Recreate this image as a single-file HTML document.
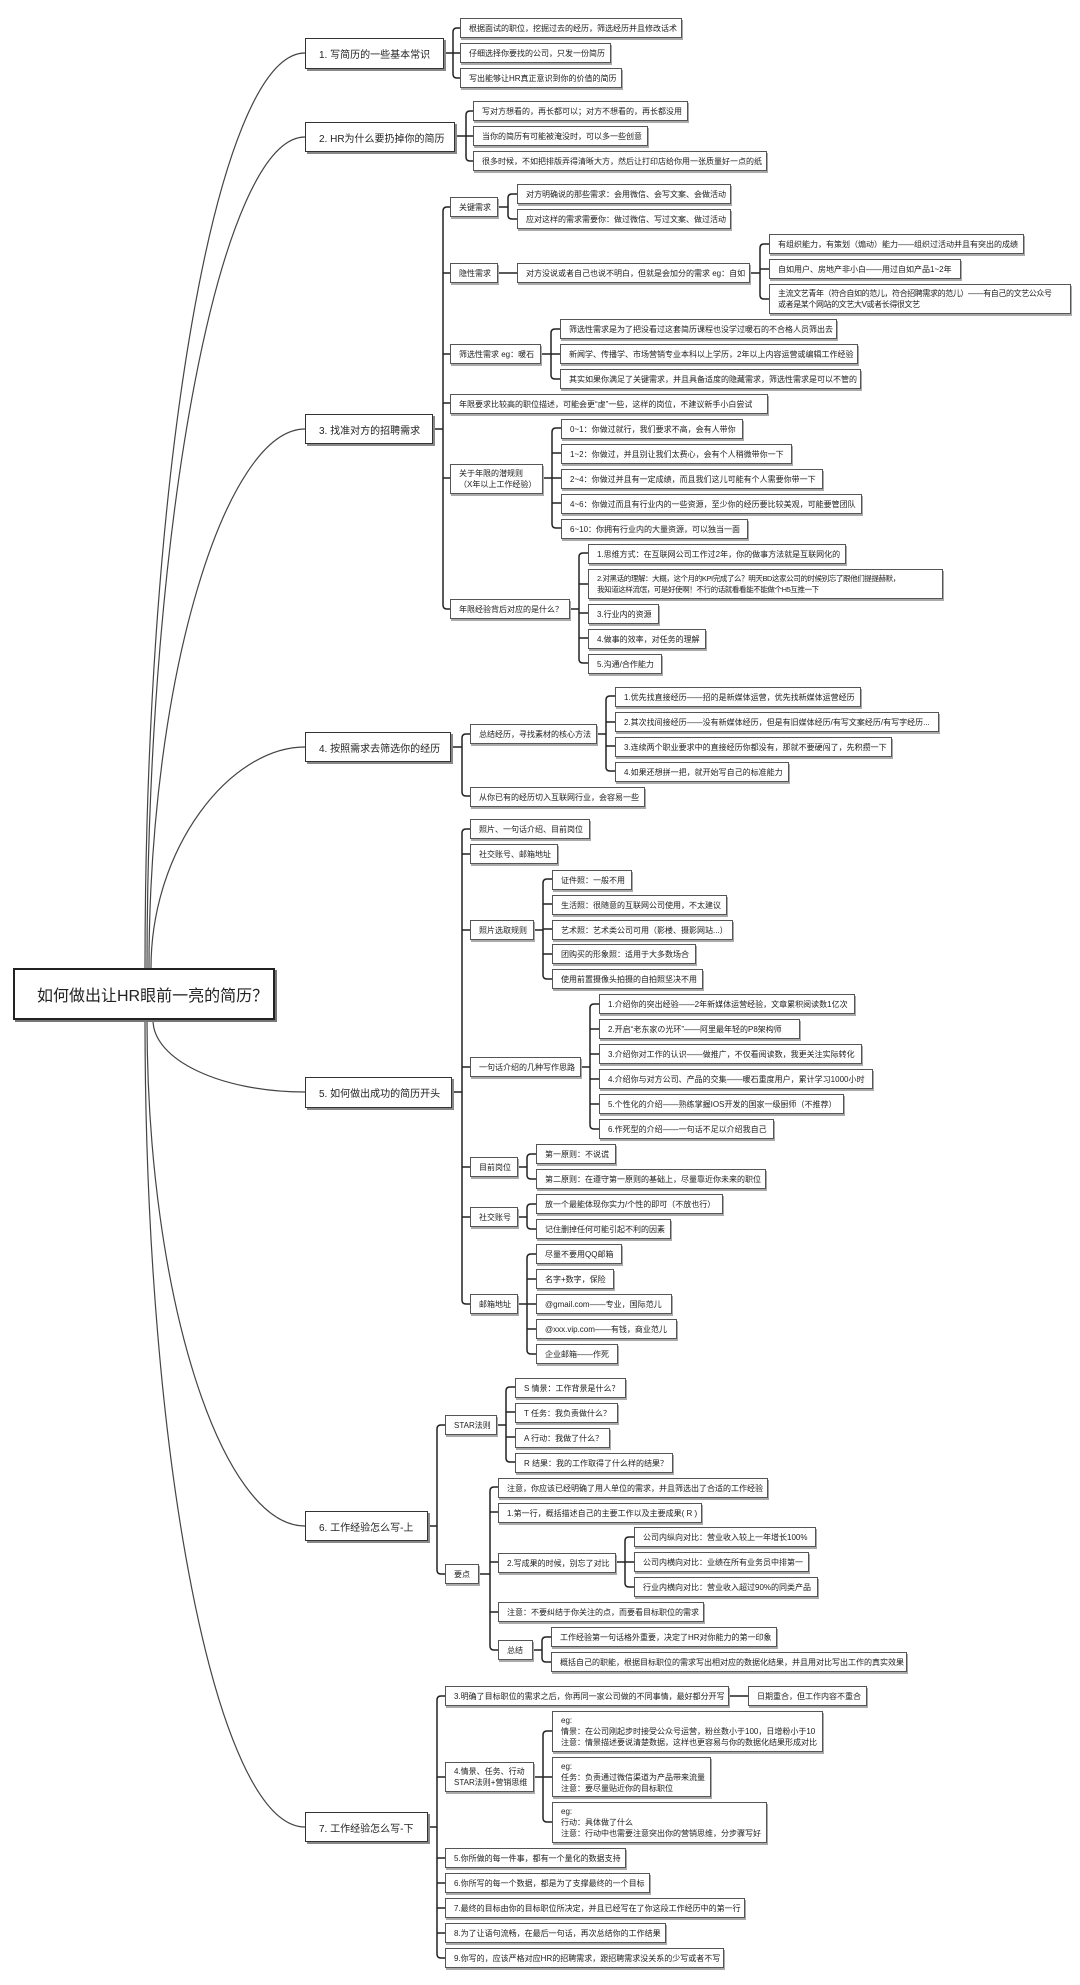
<!DOCTYPE html>
<html><head><meta charset="utf-8">
<style>
html,body{margin:0;padding:0;background:#fff;}
body{width:1080px;height:1985px;position:relative;overflow:hidden;font-family:"Liberation Sans","Noto Sans CJK SC",sans-serif;color:#222;}
.b{position:absolute;border:1px solid #555;background:#fff;box-shadow:1px 2px 0 #aaa;font-size:8px;line-height:11px;padding:0 4px 0 8px;display:flex;align-items:center;white-space:nowrap;box-sizing:border-box;height:20px;overflow:hidden;}
.m{position:absolute;border:1.5px solid #333;background:#fff;box-shadow:2px 2px 0 #888;font-size:10px;padding-left:13px;display:flex;align-items:center;white-space:nowrap;box-sizing:border-box;}
.r{position:absolute;left:13px;top:968px;width:262px;height:52px;border:2px solid #222;background:#fff;box-shadow:2px 2px 0 #777;font-size:16px;display:flex;align-items:center;padding-left:22px;box-sizing:border-box;white-space:nowrap;}
.t{letter-spacing:-0.4px;}
svg{position:absolute;left:0;top:0;}
</style></head><body>
<svg width="1080" height="1985" fill="none" stroke="#222" stroke-width="1.3">
<g stroke="#444" stroke-width="1.2">
<path d="M145 968 C145 467,217 53,305 53"/>
<path d="M147 968 C147 514,222 137,305 137"/>
<path d="M149 968 C149 676,226 429,305 429"/>
<path d="M151 968 C151 848,230 747,305 747"/>
<path d="M153 1020 C153 1060,221 1092,305 1092"/>
<path d="M147 1020 C147 1298,222 1526,305 1526"/>
<path d="M145 1020 C145 1463,217 1827,305 1827"/>
</g>
<g stroke-width="1.5">
<path d="M444 53H453M460 28H457Q453 28 453 32V74Q453 78 457 78H460M453 53H460"/>
<path d="M455 136H466M473 111H470Q466 111 466 115V157Q466 161 470 161H473M466 136H473"/>
<path d="M433 429H443M450 207H447Q443 207 443 211V605Q443 609 447 609H450M443 273H450M443 354H450M443 403H450M443 478H450"/>
<path d="M498 207H508M517 194H512Q508 194 508 198V215Q508 219 512 219H517"/>
<path d="M498 273H517"/>
<path d="M750 273H760M769 244H764Q760 244 760 248V295Q760 299 764 299H769M760 269H769"/>
<path d="M541 354H551M560 329H555Q551 329 551 333V375Q551 379 555 379H560M551 354H560"/>
<path d="M543 478H552M561 428H556Q552 428 552 432V524Q552 528 556 528H561M552 453H561M552 478H561M552 503H561"/>
<path d="M570 609H579M588 553H583Q579 553 579 557V659Q579 663 583 663H588M579 584H588M579 613H588M579 638H588"/>
<path d="M451 747H462M470 734H466Q462 734 462 738V792Q462 796 466 796H470"/>
<path d="M597 734H606M615 696H610Q606 696 606 700V767Q606 771 610 771H615M606 722H615M606 746H615"/>
<path d="M452 1092H462M470 829H466Q462 829 462 833V1300Q462 1304 466 1304H470M462 854H470M462 930H470M462 1067H470M462 1167H470M462 1217H470"/>
<path d="M534 930H543M552 879H547Q543 879 543 883V975Q543 979 547 979H552M543 904H552M543 929H552M543 954H552"/>
<path d="M581 1067H590M599 1004H594Q590 1004 590 1008V1125Q590 1129 594 1129H599M590 1029H599M590 1054H599M590 1079H599M590 1104H599"/>
<path d="M518 1167H527M536 1154H531Q527 1154 527 1158V1175Q527 1179 531 1179H536"/>
<path d="M518 1217H527M536 1204H531Q527 1204 527 1208V1225Q527 1229 531 1229H536"/>
<path d="M518 1304H527M536 1254H531Q527 1254 527 1258V1350Q527 1354 531 1354H536M527 1279H536M527 1304H536M527 1329H536"/>
<path d="M428 1526H437M445 1425H441Q437 1425 437 1429V1570Q437 1574 441 1574H445"/>
<path d="M497 1425H506M515 1387H510Q506 1387 506 1391V1458Q506 1462 510 1462H515M506 1412H515M506 1437H515"/>
<path d="M479 1574H490M498 1487H494Q490 1487 490 1491V1646Q490 1650 494 1650H498M490 1512H498M490 1562H498M490 1612H498"/>
<path d="M616 1562H625M634 1537H629Q625 1537 625 1541V1583Q625 1587 629 1587H634M625 1562H634"/>
<path d="M533 1650H542M551 1637H546Q542 1637 542 1641V1658Q542 1662 546 1662H551"/>
<path d="M428 1827H437M445 1696H441Q437 1696 437 1700V1954Q437 1958 441 1958H445M437 1777H445M437 1858H445M437 1883H445M437 1908H445M437 1933H445"/>
<path d="M729 1696H748"/>
<path d="M534 1777H543M552 1731H547Q543 1731 543 1735V1818Q543 1822 547 1822H552M543 1777H552"/>
</g>
</svg>

<div class="r">如何做出让HR眼前一亮的简历？</div>

<div class="m" style="left:305px;top:38px;width:139px;height:31px">1. 写简历的一些基本常识</div>
<div class="b" style="left:460px;top:18px;width:222px">根据面试的职位，挖掘过去的经历，筛选经历并且修改话术</div>
<div class="b" style="left:460px;top:43px;width:151px">仔细选择你要找的公司，只发一份简历</div>
<div class="b" style="left:460px;top:68px;width:162px">写出能够让HR真正意识到你的价值的简历</div>

<div class="m" style="left:305px;top:122px;width:150px;height:30px">2. HR为什么要扔掉你的简历</div>
<div class="b" style="left:473px;top:101px;width:215px">写对方想看的，再长都可以；对方不想看的，再长都没用</div>
<div class="b" style="left:473px;top:126px;width:175px">当你的简历有可能被淹没时，可以多一些创意</div>
<div class="b" style="left:473px;top:151px;width:294px">很多时候，不如把排版弄得清晰大方，然后让打印店给你用一张质量好一点的纸</div>

<div class="m" style="left:305px;top:414px;width:128px;height:30px">3. 找准对方的招聘需求</div>
<div class="b" style="left:450px;top:197px;width:48px">关键需求</div>
<div class="b" style="left:517px;top:184px;width:214px">对方明确说的那些需求：会用微信、会写文案、会做活动</div>
<div class="b" style="left:517px;top:209px;width:214px">应对这样的需求需要你：做过微信、写过文案、做过活动</div>
<div class="b" style="left:450px;top:263px;width:48px">隐性需求</div>
<div class="b" style="left:517px;top:263px;width:233px">对方没说或者自己也说不明白，但就是会加分的需求 eg：自如</div>
<div class="b" style="left:769px;top:234px;width:255px">有组织能力，有策划（煽动）能力——组织过活动并且有突出的成绩</div>
<div class="b" style="left:769px;top:259px;width:192px">自如用户、房地产非小白——用过自如产品1~2年</div>
<div class="b t" style="left:769px;top:284px;width:302px;height:30px">主流文艺青年（符合自如的范儿，符合招聘需求的范儿）——有自己的文艺公众号<br>或者是某个网站的文艺大V或者长得很文艺</div>
<div class="b" style="left:450px;top:344px;width:91px">筛选性需求 eg：暖石</div>
<div class="b" style="left:560px;top:319px;width:277px">筛选性需求是为了把没看过这套简历课程也没学过暖石的不合格人员筛出去</div>
<div class="b" style="left:560px;top:344px;width:298px">新闻学、传播学、市场营销专业本科以上学历，2年以上内容运营或编辑工作经验</div>
<div class="b" style="left:560px;top:369px;width:301px">其实如果你满足了关键需求，并且具备适度的隐藏需求，筛选性需求是可以不管的</div>
<div class="b" style="left:450px;top:394px;width:318px">年限要求比较高的职位描述，可能会更“虚”一些，这样的岗位，不建议新手小白尝试</div>
<div class="b" style="left:450px;top:464px;width:93px;height:30px">关于年限的潜规则<br>（X年以上工作经验）</div>
<div class="b" style="left:561px;top:419px;width:182px">0~1：你做过就行，我们要求不高，会有人带你</div>
<div class="b" style="left:561px;top:444px;width:231px">1~2：你做过，并且别让我们太费心，会有个人稍微带你一下</div>
<div class="b" style="left:561px;top:469px;width:262px">2~4：你做过并且有一定成绩，而且我们这儿可能有个人需要你带一下</div>
<div class="b" style="left:561px;top:494px;width:301px">4~6：你做过而且有行业内的一些资源，至少你的经历要比较美观，可能要管团队</div>
<div class="b" style="left:561px;top:519px;width:187px">6~10：你拥有行业内的大量资源，可以独当一面</div>
<div class="b" style="left:450px;top:599px;width:120px">年限经验背后对应的是什么？</div>
<div class="b" style="left:588px;top:544px;width:258px">1.思维方式：在互联网公司工作过2年，你的做事方法就是互联网化的</div>
<div class="b t" style="left:588px;top:569px;width:355px;height:30px;font-size:7.5px">2.对黑话的理解：大概，这个月的KPI完成了么？明天BD这家公司的时候别忘了跟他们提提赫默，<br>我知道这样流氓，可是好使啊！不行的话就看看能不能做个H5互推一下</div>
<div class="b" style="left:588px;top:604px;width:71px">3.行业内的资源</div>
<div class="b" style="left:588px;top:629px;width:118px">4.做事的效率，对任务的理解</div>
<div class="b" style="left:588px;top:654px;width:74px">5.沟通/合作能力</div>

<div class="m" style="left:305px;top:732px;width:146px;height:30px">4. 按照需求去筛选你的经历</div>
<div class="b" style="left:470px;top:724px;width:127px">总结经历，寻找素材的核心方法</div>
<div class="b" style="left:615px;top:687px;width:246px">1.优先找直接经历——招的是新媒体运营，优先找新媒体运营经历</div>
<div class="b" style="left:615px;top:712px;width:324px">2.其次找间接经历——没有新媒体经历，但是有旧媒体经历/有写文案经历/有写字经历...</div>
<div class="b" style="left:615px;top:737px;width:277px">3.连续两个职业要求中的直接经历你都没有，那就不要硬闯了，先积攒一下</div>
<div class="b" style="left:615px;top:762px;width:174px">4.如果还想拼一把，就开始写自己的标准能力</div>
<div class="b" style="left:470px;top:787px;width:175px">从你已有的经历切入互联网行业，会容易一些</div>

<div class="m" style="left:305px;top:1077px;width:147px;height:31px">5. 如何做出成功的简历开头</div>
<div class="b" style="left:470px;top:819px;width:120px">照片、一句话介绍、目前岗位</div>
<div class="b" style="left:470px;top:844px;width:88px">社交账号、邮箱地址</div>
<div class="b" style="left:470px;top:920px;width:64px">照片选取规则</div>
<div class="b" style="left:552px;top:870px;width:80px">证件照：一般不用</div>
<div class="b" style="left:552px;top:895px;width:175px">生活照：很随意的互联网公司使用，不太建议</div>
<div class="b" style="left:552px;top:920px;width:181px">艺术照：艺术类公司可用（影楼、摄影网站...）</div>
<div class="b" style="left:552px;top:944px;width:144px">团购买的形象照：适用于大多数场合</div>
<div class="b" style="left:552px;top:969px;width:151px">使用前置摄像头拍摄的自拍照坚决不用</div>
<div class="b" style="left:470px;top:1057px;width:111px">一句话介绍的几种写作思路</div>
<div class="b" style="left:599px;top:994px;width:256px">1.介绍你的突出经验——2年新媒体运营经验，文章累积阅读数1亿次</div>
<div class="b" style="left:599px;top:1019px;width:201px">2.开启“老东家の光环”——阿里最年轻的P8架构师</div>
<div class="b" style="left:599px;top:1044px;width:263px">3.介绍你对工作的认识——做推广，不仅看阅读数，我更关注实际转化</div>
<div class="b" style="left:599px;top:1069px;width:274px">4.介绍你与对方公司、产品的交集——暖石重度用户，累计学习1000小时</div>
<div class="b" style="left:599px;top:1094px;width:245px">5.个性化的介绍——熟练掌握IOS开发的国家一级厨师（不推荐）</div>
<div class="b" style="left:599px;top:1119px;width:175px">6.作死型的介绍——一句话不足以介绍我自己</div>
<div class="b" style="left:470px;top:1157px;width:48px">目前岗位</div>
<div class="b" style="left:536px;top:1144px;width:80px">第一原则：不说谎</div>
<div class="b" style="left:536px;top:1169px;width:230px">第二原则：在遵守第一原则的基础上，尽量靠近你未来的职位</div>
<div class="b" style="left:470px;top:1207px;width:48px">社交账号</div>
<div class="b" style="left:536px;top:1194px;width:187px">放一个最能体现你实力/个性的即可（不放也行）</div>
<div class="b" style="left:536px;top:1219px;width:135px">记住删掉任何可能引起不利的因素</div>
<div class="b" style="left:470px;top:1294px;width:48px">邮箱地址</div>
<div class="b" style="left:536px;top:1244px;width:86px">尽量不要用QQ邮箱</div>
<div class="b" style="left:536px;top:1269px;width:78px">名字+数字，保险</div>
<div class="b" style="left:536px;top:1294px;width:136px">@gmail.com——专业，国际范儿</div>
<div class="b" style="left:536px;top:1319px;width:141px">@xxx.vip.com——有钱，商业范儿</div>
<div class="b" style="left:536px;top:1344px;width:82px">企业邮箱——作死</div>

<div class="m" style="left:305px;top:1511px;width:123px;height:30px">6. 工作经验怎么写-上</div>
<div class="b" style="left:445px;top:1415px;width:52px">STAR法则</div>
<div class="b" style="left:515px;top:1378px;width:111px">S 情景：工作背景是什么？</div>
<div class="b" style="left:515px;top:1403px;width:103px">T 任务：我负责做什么？</div>
<div class="b" style="left:515px;top:1428px;width:95px">A 行动：我做了什么？</div>
<div class="b" style="left:515px;top:1453px;width:158px">R 结果：我的工作取得了什么样的结果？</div>
<div class="b" style="left:445px;top:1564px;width:34px">要点</div>
<div class="b" style="left:498px;top:1478px;width:270px">注意，你应该已经明确了用人单位的需求，并且筛选出了合适的工作经验</div>
<div class="b" style="left:498px;top:1503px;width:204px">1.第一行，概括描述自己的主要工作以及主要成果( R )</div>
<div class="b" style="left:498px;top:1553px;width:118px">2.写成果的时候，别忘了对比</div>
<div class="b" style="left:634px;top:1527px;width:182px">公司内纵向对比：营业收入较上一年增长100%</div>
<div class="b" style="left:634px;top:1552px;width:175px">公司内横向对比：业绩在所有业务员中排第一</div>
<div class="b" style="left:634px;top:1577px;width:184px">行业内横向对比：营业收入超过90%的同类产品</div>
<div class="b" style="left:498px;top:1602px;width:206px">注意：不要纠结于你关注的点，而要看目标职位的需求</div>
<div class="b" style="left:498px;top:1640px;width:35px">总结</div>
<div class="b" style="left:551px;top:1627px;width:226px">工作经验第一句话格外重要，决定了HR对你能力的第一印象</div>
<div class="b" style="left:551px;top:1652px;width:356px">概括自己的职能，根据目标职位的需求写出相对应的数据化结果，并且用对比写出工作的真实效果</div>

<div class="m" style="left:305px;top:1812px;width:123px;height:30px">7. 工作经验怎么写-下</div>
<div class="b" style="left:445px;top:1686px;width:284px">3.明确了目标职位的需求之后，你再同一家公司做的不同事情，最好都分开写</div>
<div class="b" style="left:748px;top:1686px;width:119px">日期重合，但工作内容不重合</div>
<div class="b" style="left:445px;top:1762px;width:89px;height:30px">4.情景、任务、行动<br>STAR法则+营销思维</div>
<div class="b" style="left:552px;top:1711px;width:271px;height:41px">eg:<br>情景：在公司刚起步时接受公众号运营，粉丝数小于100，日增粉小于10<br>注意：情景描述要说清楚数据，这样也更容易与你的数据化结果形成对比</div>
<div class="b" style="left:552px;top:1757px;width:159px;height:40px">eg:<br>任务：负责通过微信渠道为产品带来流量<br>注意：要尽量贴近你的目标职位</div>
<div class="b" style="left:552px;top:1802px;width:215px;height:41px">eg:<br>行动：具体做了什么<br>注意：行动中也需要注意突出你的营销思维，分步骤写好</div>
<div class="b" style="left:445px;top:1848px;width:181px">5.你所做的每一件事，都有一个量化的数据支持</div>
<div class="b" style="left:445px;top:1873px;width:205px">6.你所写的每一个数据，都是为了支撑最终的一个目标</div>
<div class="b" style="left:445px;top:1898px;width:300px">7.最终的目标由你的目标职位所决定，并且已经写在了你这段工作经历中的第一行</div>
<div class="b" style="left:445px;top:1923px;width:221px">8.为了让语句流畅，在最后一句话，再次总结你的工作结果</div>
<div class="b" style="left:445px;top:1948px;width:279px">9.你写的，应该严格对应HR的招聘需求，跟招聘需求没关系的少写或者不写</div>
</body></html>
